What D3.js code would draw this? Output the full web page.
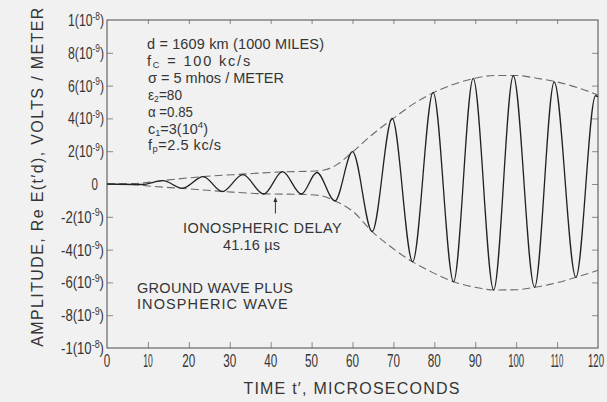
<!DOCTYPE html>
<html>
<head>
<meta charset="utf-8">
<script src="https://cdn.jsdelivr.net/npm/d3@7"></script>
<style>
  html, body { margin: 0; padding: 0; background: #f1f1f1; }
  svg { display: block; }
  text { font-family: "Liberation Sans", Arial, sans-serif; fill: #353535; }
</style>
</head>
<body>
<svg id="chart" width="607" height="402"></svg>
<script>
// Time axis (microseconds) and amplitude axis (units of 1e-9 V/m)
const timeTicks = [0, 10, 20, 30, 40, 50, 60, 70, 80, 90, 100, 110, 120];
const ampTicks = [10, 8, 6, 4, 2, 0, -2, -4, -6, -8, -10];
const ampMantissa = ["1", "8", "6", "4", "2", "0", "-2", "-4", "-6", "-8", "-1"];
const ampExponent = ["-8", "-9", "-9", "-9", "-9", "", "-9", "-9", "-9", "-9", "-8"];

// Successive crests and troughs of the received field Re E(t'd)
const waveT = [0, 8.5, 13.7, 18.4, 23.5, 28.2, 33.2, 38.3, 42.9, 47.5, 51.3, 55.7,
               60.0, 64.8, 69.7, 74.7, 79.7, 84.7, 89.5, 94.5, 99.3, 104.5, 109.3, 114.6, 119.4, 120];
const waveV = [0, -0.03, 0.2, -0.26, 0.45, -0.46, 0.57, -0.61, 0.75, -0.61, 0.7, -1.03,
               1.97, -2.9, 4.0, -4.74, 5.59, -5.96, 6.44, -6.46, 6.6, -6.3, 6.22, -5.69, 5.38, 5.32];

// Upper and lower envelopes (dashed)
const upperT = [0, 6, 10, 14, 23.5, 33, 43, 50, 53, 56, 60, 65, 70, 75, 80, 85, 90, 95, 100, 105, 110, 115, 120];
const upperV = [0, 0.02, 0.1, 0.22, 0.45, 0.6, 0.74, 0.78, 0.85, 1.15, 1.95, 3.05, 4.0, 4.9, 5.6, 6.1, 6.45, 6.62, 6.62, 6.45, 6.22, 5.88, 5.42];
const lowerT = [0, 6, 10, 18.4, 28.2, 38.3, 47.5, 52, 55.7, 60, 64.8, 70, 74.7, 80, 84.7, 90, 94.5, 100, 104.5, 110, 114.6, 120];
const lowerV = [0, -0.02, -0.12, -0.27, -0.45, -0.6, -0.63, -0.7, -1.03, -1.65, -2.9, -3.95, -4.75, -5.45, -5.96, -6.3, -6.46, -6.45, -6.3, -6.02, -5.69, -5.26];

const ionosphericDelay = 41.16;

const svg = d3.select("#chart");
svg.append("rect").attr("width", 607).attr("height", 402).attr("fill", "#f1f1f1");

const x = d3.scaleLinear().domain([0, 120]).range([107, 598]);
const y = d3.scaleLinear().domain([-10, 10]).range([348, 20]);

// Inward tick marks on all four sides
const tickStyle = g => {
  g.select(".domain").remove();
  g.selectAll("line").attr("stroke", "#8a8a8a").attr("stroke-width", 1);
  g.selectAll("text").remove();
};
const innerX = timeTicks.slice(1, -1);
const innerY = ampTicks.slice(1, -1);
svg.append("g").attr("transform", `translate(0,${y(-10)})`)
  .call(d3.axisBottom(x).tickValues(innerX).tickSize(-6)).call(tickStyle);
svg.append("g").attr("transform", `translate(0,${y(10)})`)
  .call(d3.axisTop(x).tickValues(innerX).tickSize(-4)).call(tickStyle);
svg.append("g").attr("transform", `translate(${x(0)},0)`)
  .call(d3.axisLeft(y).tickValues(innerY).tickSize(-6)).call(tickStyle);
svg.append("g").attr("transform", `translate(${x(120)},0)`)
  .call(d3.axisRight(y).tickValues(innerY).tickSize(-6)).call(tickStyle);

// Frame
svg.append("rect")
  .attr("x", x(0)).attr("y", y(10))
  .attr("width", x(120) - x(0)).attr("height", y(-10) - y(10))
  .attr("fill", "none").attr("stroke", "#4a4a4a").attr("stroke-width", 1);

// Envelopes
const envLine = d3.line().x(d => x(d[0])).y(d => y(d[1])).curve(d3.curveMonotoneX);
[[upperT, upperV], [lowerT, lowerV]].forEach(([ts, vs]) => {
  svg.append("path")
    .datum(ts.map((t, i) => [t, vs[i]]))
    .attr("d", envLine)
    .attr("fill", "none")
    .attr("stroke", "#6a6a6a")
    .attr("stroke-width", 1.1)
    .attr("stroke-dasharray", "8,4");
});

// Waveform
svg.append("path")
  .datum(waveT.map((t, i) => [t, waveV[i]]))
  .attr("d", d3.line().x(d => x(d[0])).y(d => y(d[1])).curve(d3.curveMonotoneX))
  .attr("fill", "none")
  .attr("stroke", "#222")
  .attr("stroke-width", 1.3);

// Text helper: parts are [string, "sub" | "sup" | ""]. A text is squeezed
// horizontally when it must be narrower, or letter-spaced when it must be wider.
function richText(px, py, parts, opt) {
  const o = Object.assign({ size: 14.5, anchor: "start", rotate: 0 }, opt || {});
  const g = svg.append("g").attr("transform", `translate(${px},${py}) rotate(${o.rotate})`);
  const t = g.append("text").attr("font-size", o.size).attr("text-anchor", o.anchor);
  let cur = 0;
  parts.forEach(([s, kind]) => {
    const target = kind === "sub" ? o.size * 0.17 : kind === "sup" ? -o.size * 0.4 : 0;
    t.append("tspan")
      .attr("dy", target - cur)
      .attr("font-size", kind === "sub" ? o.size * 0.64 : kind ? o.size * 0.68 : o.size)
      .text(s);
    cur = target;
  });
  if (o.width) {
    const w0 = t.node().getBBox().width;
    if (w0 > 0 && o.width < w0) {
      t.attr("transform", `scale(${o.width / w0},1)`);
    } else if (w0 > 0) {
      const n = parts.reduce((a, p) => a + p[0].length, 0);
      t.attr("letter-spacing", (o.width - w0) / Math.max(1, n - 1));
    }
  }
  return g;
}

// Y tick labels
ampTicks.forEach((v, i) => {
  if (ampExponent[i] === "") {
    richText(98, y(v) + 6, [[ampMantissa[i], ""]], { size: 16, anchor: "end", width: 6.5 });
  } else {
    const neg = ampMantissa[i].startsWith("-");
    richText(104, y(v) + 6, [[ampMantissa[i] + "(10", ""], [ampExponent[i], "sup"], [")", ""]],
      { size: 16, anchor: "end", width: neg ? 43 : 36 });
  }
});

// X tick labels
timeTicks.forEach(t => {
  const s = String(t);
  const w = Array.from(s).reduce((a, c) => a + (c === "1" ? 3 : 6.5), 0);
  richText(Math.min(x(t), 596), 367, [[s, ""]], { size: 19, anchor: "middle", width: w });
});

// Axis titles
richText(352, 394, [["TIME t′, MICROSECONDS", ""]], { size: 16, anchor: "middle", width: 216 });
richText(43, 176.5, [["AMPLITUDE, Re E(t′d), VOLTS / METER", ""]],
  { size: 16, anchor: "middle", width: 339, rotate: -90 });

// Parameter block
const px0 = 147;
richText(px0, 49, [["d = 1609 km (1000 MILES)", ""]], { width: 177 });
richText(px0, 66, [["f", ""], ["C", "sub"], [" = 100  kc/s", ""]], { width: 105 });
richText(px0 + 1, 83, [["σ = 5 mhos / METER", ""]], { width: 136 });
richText(px0 + 1, 100, [["ε", ""], ["2", "sub"], ["=80", ""]], { width: 34 });
richText(px0 + 1, 117, [["α =0.85", ""]], { width: 45 });
richText(px0 + 1, 134, [["c", ""], ["1", "sub"], ["=3(10", ""], ["4", "sup"], [")", ""]], { width: 60 });
richText(px0 + 1, 150, [["f", ""], ["p", "sub"], ["=2.5 kc/s", ""]], { width: 73 });

// Ionospheric delay marker
const ax = x(ionosphericDelay);
svg.append("line")
  .attr("x1", ax).attr("x2", ax)
  .attr("y1", y(-0.95)).attr("y2", y(-1.8))
  .attr("stroke", "#333").attr("stroke-width", 1);
svg.append("path")
  .attr("d", `M${ax},${y(-0.8)} L${ax - 2},${y(-1.1)} L${ax + 2},${y(-1.1)} Z`)
  .attr("fill", "#333");
richText(183, 233, [["IONOSPHERIC DELAY", ""]], { width: 159 });
richText(223, 250, [["41.16 µs", ""]], { width: 57 });

richText(137, 293, [["GROUND WAVE PLUS", ""]], { width: 156 });
richText(137, 308.5, [["INOSPHERIC WAVE", ""]], { width: 151 });
</script>
</body>
</html>
